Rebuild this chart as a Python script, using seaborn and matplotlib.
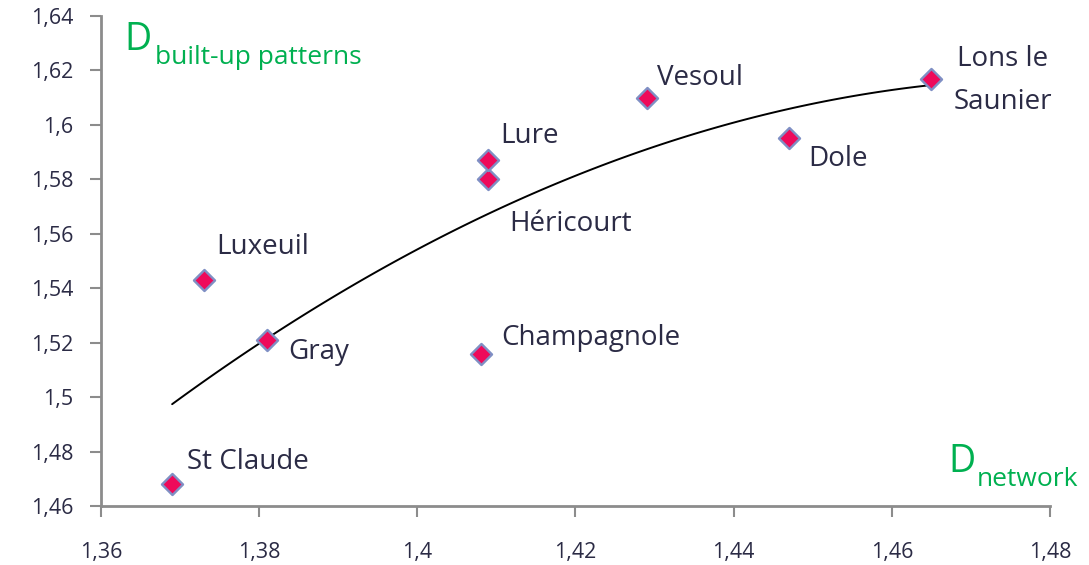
import numpy as np
import pandas as pd
import matplotlib
matplotlib.use("Agg")
import matplotlib.pyplot as plt
from matplotlib.ticker import FuncFormatter, MultipleLocator
import seaborn as sns

# values
towns = ['St Claude', 'Luxeuil', 'Gray', 'Champagnole', 'Héricourt',
         'Lure', 'Vesoul', 'Dole', 'Lons le\nSaunier']
d_network = [1.369, 1.373, 1.381, 1.408, 1.409, 1.409, 1.429, 1.447, 1.465]
d_built = [1.468, 1.543, 1.521, 1.516, 1.580, 1.587, 1.610, 1.595, 1.617]

# label offsets in pixels from each point
label_dx = [15, 12, 21, 21, 21, 12, 10, 19, 71]
label_dy = [22, 33, -12, 16, -45, 24, 20, -21, -2]

df = pd.DataFrame({'town': towns, 'x': d_network, 'y': d_built})

sns.set_style('white')
plt.rcParams['font.family'] = ['Open Sans', 'DejaVu Sans']

fig = plt.figure(figsize=(10.89, 5.65), dpi=100)
ax = fig.add_axes([0.0927, 0.1044, 0.8715, 0.8673])

# 2nd order trend line
sns.regplot(data=df, x='x', y='y', order=2, ci=None, scatter=False,
            line_kws={'color': 'black', 'lw': 1.4}, ax=ax)
sns.scatterplot(data=df, x='x', y='y', marker='D', s=115,
                color='#ee0a5a', edgecolor='#7f8fc4', linewidth=1.7,
                zorder=3, ax=ax)

label_col = '#2b2b45'
for t, x, y, dx, dy in zip(towns, d_network, d_built, label_dx, label_dy):
    ha = 'center' if '\n' in t else 'left'
    ax.annotate(t, (x, y), xytext=(dx, dy), textcoords='offset pixels',
                ha=ha, va='center', fontsize=20, color=label_col,
                linespacing=1.72)

ax.set_xlim(1.36, 1.48)
ax.set_ylim(1.46, 1.64)
ax.xaxis.set_major_locator(MultipleLocator(0.02))
ax.yaxis.set_major_locator(MultipleLocator(0.02))
fmt = FuncFormatter(lambda v, p: f"{round(v, 2):g}".replace('.', ','))
ax.xaxis.set_major_formatter(fmt)
ax.yaxis.set_major_formatter(fmt)
ax.set_xlabel('')
ax.set_ylabel('')

for s in ['top', 'right']:
    ax.spines[s].set_visible(False)
for s in ['left', 'bottom']:
    ax.spines[s].set_color('#8c8c8c')
    ax.spines[s].set_linewidth(2)
ax.tick_params(axis='both', which='major', direction='out', length=8,
               width=1.5, color='#8c8c8c', labelsize=15.5,
               labelcolor=label_col, left=True, bottom=True)
ax.tick_params(axis='x', pad=18)
ax.tick_params(axis='y', pad=12)

green = '#00b050'
fig.text(124 / 1089, 1 - 40 / 565, 'D', fontsize=27, color=green, va='center')
fig.text(155 / 1089, 1 - 58 / 565, 'built-up patterns', fontsize=19,
         color=green, va='center')
fig.text(948 / 1089, 1 - 462 / 565, 'D', fontsize=27, color=green, va='center')
fig.text(977 / 1089, 1 - 479 / 565, 'network', fontsize=19,
         color=green, va='center')

fig.savefig('out.png', dpi=100)
